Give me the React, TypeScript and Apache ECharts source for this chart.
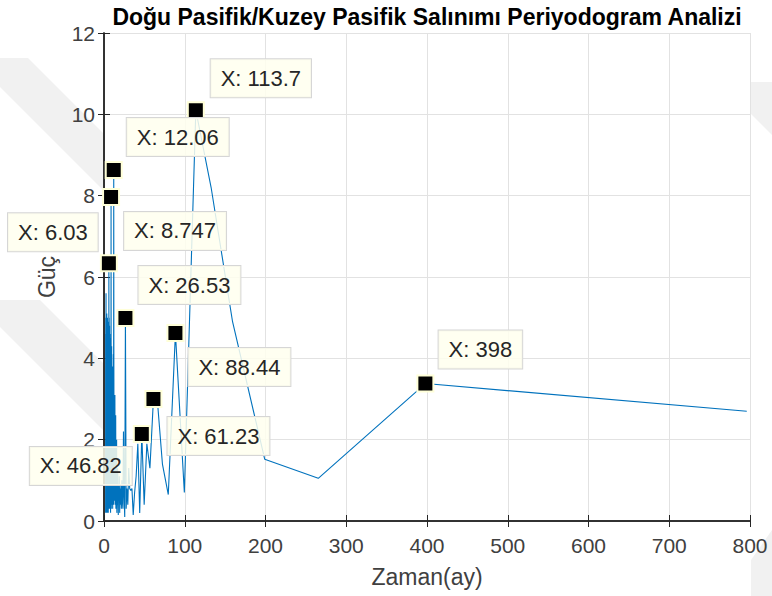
import React, { useEffect, useRef } from "react";
import * as echarts from "echarts";

// Record length in months: periods are RECORD_LENGTH / k for harmonic k
const RECORD_LENGTH = 796;

// Power for harmonics k = 1 .. 132
const lowPower = [
  2.7, 3.38, 1.05, 1.52, 4.9, 8.2, 10.1, 0.7, 4.62, 0.65,
  1.4, 2.9, 3.0, 1.3, 1.9, 0.4, 2.14, 0.2, 1.9, 1.1,
  0.7, 0.15, 0.8, 0.75, 0.8, 1.3, 0.4, 0.8, 0.3, 4.99,
  0.1, 0.6, 2.2, 0.3, 0.5, 1.0, 0.3, 0.9, 0.4, 0.8,
  0.2, 1.1, 0.5, 0.9, 0.15, 0.7, 1.3, 0.4, 0.6, 0.2,
  2.0, 0.5, 1.1, 0.3, 2.6, 0.8, 1.5, 0.4, 3.1, 1.0,
  0.6, 2.4, 1.2, 0.5, 3.5, 8.63, 1.8, 0.4, 4.1, 2.2,
  0.7, 3.3, 1.4, 0.3, 2.9, 3.8, 0.9, 2.0, 3.6, 1.2,
  3.1, 0.4, 2.2, 4.3, 0.7, 1.9, 3.6, 0.3, 2.8, 4.0,
  7.97, 1.1, 3.3, 0.5, 4.5, 1.6, 2.5, 0.2, 3.8, 1.3,
  4.4, 0.6, 2.9, 3.5, 0.9, 4.2, 1.7, 0.3, 3.0, 4.6,
  1.0, 2.4, 0.5, 3.9, 2.1, 4.8, 0.8, 1.5, 3.4, 0.4,
  4.1, 2.6, 1.2, 5.0, 0.7, 3.2, 1.8, 4.5, 0.3, 2.7,
  3.7, 6.34,
];

// Power for high harmonics k = 133, 136, 139, ... (every 3rd harmonic)
const TAIL_START = 133;
const TAIL_STEP = 3;
const tailPower = [
  3.2, 0.4, 1.8, 4.4, 0.9, 2.6, 0.2, 3.7, 1.1, 4.9,
  0.6, 2.2, 3.9, 0.3, 1.5, 4.2, 2.8, 0.5, 5.0, 1.3,
  0.2, 3.4, 2.0, 4.6, 0.8, 1.7, 3.1, 0.4, 4.8, 2.5,
  0.9, 3.6, 1.2, 5.1, 0.3, 2.7, 4.0, 1.6, 0.6, 3.3,
  4.7, 0.2, 2.1, 3.8, 1.0, 5.0, 0.5, 2.9, 1.4, 4.3,
  0.7, 3.5, 2.3, 0.3, 4.9, 1.9, 0.8, 3.0, 4.5, 0.4,
  2.4, 5.6, 1.1, 0.2, 3.6, 2.6, 4.1, 0.6, 1.8, 4.8,
  0.3, 2.8, 3.9, 1.2, 0.5, 4.4, 2.0, 0.9, 3.2, 5.0,
  1.5, 0.4, 2.7, 4.2, 0.7, 3.4, 1.3, 4.6, 0.2,
];

// Harmonics marked with data tips
const tipHarmonics = [7, 66, 91, 132, 30, 9, 2, 13, 17];
// Pixel offset of each data-tip box from its marker (layout only)
const tipOffsets = [
  [65, -32], [64, -33], [64, 34], [-56, -31], [64, -33],
  [64, 34], [55, -34], [65, 37], [-61, 32],
];

const xTickValues = [0, 100, 200, 300, 400, 500, 600, 700, 800];
const yTickValues = [0, 2, 4, 6, 8, 10, 12];

const TITLE = "Doğu Pasifik/Kuzey Pasifik Salınımı Periyodogram Analizi";
const X_NAME = "Zaman(ay)";
const Y_NAME = "Güç";

const FONT = "'Liberation Sans', Arial, Helvetica, sans-serif";

function period(k: number) {
  return RECORD_LENGTH / k;
}
function powerOf(k: number) {
  return lowPower[k - 1];
}
function fmt4(v: number) {
  return String(parseFloat(v.toPrecision(4)));
}

export default function App() {
  const ref = useRef<HTMLDivElement>(null);

  useEffect(() => {
    if (!ref.current) return;
    const chart = echarts.init(ref.current, null, { renderer: "svg" });

    const pts: [number, number][] = [];
    for (let i = tailPower.length - 1; i >= 0; i--) {
      const k = TAIL_START + i * TAIL_STEP;
      pts.push([period(k), tailPower[i]]);
    }
    for (let k = lowPower.length; k >= 1; k--) {
      pts.push([period(k), lowPower[k - 1]]);
    }

    const tipData = tipHarmonics.map((k) => ({
      value: [period(k), powerOf(k)],
      label: { formatter: "X: " + fmt4(period(k)) },
    }));

    const xMin = xTickValues[0];
    const xMax = xTickValues[xTickValues.length - 1];
    const xInt = xTickValues[1] - xTickValues[0];
    const yMin = yTickValues[0];
    const yMax = yTickValues[yTickValues.length - 1];
    const yInt = yTickValues[1] - yTickValues[0];

    const axisLine = { show: true, lineStyle: { color: "#262626", width: 1.5 } };
    const axisTick = { show: true, inside: true, length: 6, lineStyle: { color: "#262626", width: 1 } };

    const wm = "#f1f1f1";

    chart.setOption({
      animation: false,
      backgroundColor: "#ffffff",
      grid: {
        left: 104,
        right: 22,
        top: 33,
        bottom: 75,
        show: false,
      },
      graphic: [
        // faint background watermark stripes in the margins
        { type: "polygon", z: -10, silent: true, shape: { points: [[0, 58], [28, 58], [103, 133], [103, 190], [0, 87]] }, style: { fill: wm } },
        { type: "polygon", z: -10, silent: true, shape: { points: [[0, 300], [40, 300], [103, 363], [103, 430], [0, 327]] }, style: { fill: wm } },
        { type: "polygon", z: -10, silent: true, shape: { points: [[751, 82], [772, 82], [772, 135], [751, 114]] }, style: { fill: wm } },
        { type: "polygon", z: -10, silent: true, shape: { points: [[751, 560], [772, 530], [772, 596], [751, 596]] }, style: { fill: wm } },
        {
          type: "text",
          x: 427,
          y: 17,
          style: {
            text: TITLE,
            fill: "#000000",
            font: "bold 23px " + FONT,
            textAlign: "center",
            textVerticalAlign: "middle",
          },
        },
      ],
      xAxis: [
        {
          type: "value",
          position: "bottom",
          min: xMin,
          max: xMax,
          interval: xInt,
          axisLine,
          axisTick,
          axisLabel: { color: "#404040", fontSize: 21, fontFamily: FONT, margin: 14 },
          splitLine: { show: true, lineStyle: { color: "#e2e2e2", width: 1 } },
          name: X_NAME,
          nameLocation: "middle",
          nameGap: 44,
          nameTextStyle: { color: "#404040", fontSize: 23, fontFamily: FONT },
        },
        {
          type: "value",
          position: "top",
          min: xMin,
          max: xMax,
          interval: xInt,
          axisLine,
          axisTick,
          axisLabel: { show: false },
          splitLine: { show: false },
        },
      ],
      yAxis: [
        {
          type: "value",
          position: "left",
          min: yMin,
          max: yMax,
          interval: yInt,
          axisLine,
          axisTick,
          axisLabel: { color: "#404040", fontSize: 21, fontFamily: FONT, margin: 9 },
          splitLine: { show: true, lineStyle: { color: "#e2e2e2", width: 1 } },
          name: Y_NAME,
          nameLocation: "middle",
          nameGap: 46,
          nameTextStyle: { color: "#404040", fontSize: 23, fontFamily: FONT },
        },
        {
          type: "value",
          position: "right",
          min: yMin,
          max: yMax,
          interval: yInt,
          axisLine,
          axisTick,
          axisLabel: { show: false },
          splitLine: { show: false },
        },
      ],
      series: [
        {
          type: "line",
          xAxisIndex: 0,
          yAxisIndex: 0,
          data: pts,
          showSymbol: false,
          symbol: "none",
          lineStyle: { color: "#0072BD", width: 1.1 },
          silent: true,
          z: 2,
        },
        {
          type: "scatter",
          xAxisIndex: 0,
          yAxisIndex: 0,
          data: tipData,
          symbol: "rect",
          symbolSize: 16,
          itemStyle: { color: "#000000", borderColor: "#ffffd8", borderWidth: 2, opacity: 1 },
          label: {
            show: true,
            position: "inside",
            color: "#262626",
            fontSize: 22,
            fontFamily: FONT,
            backgroundColor: "rgba(255,255,238,0.85)",
            borderColor: "#d6d6d6",
            borderWidth: 1,
            padding: [8, 10, 8, 10],
          },
          labelLayout: (params: any) => ({
            dx: tipOffsets[params.dataIndex][0],
            dy: tipOffsets[params.dataIndex][1],
            hideOverlap: false,
          }),
          z: 5,
        },
      ],
    });

    return () => chart.dispose();
  }, []);

  return (
    <div
      ref={ref}
      style={{ position: "absolute", left: 0, top: 0, width: 772, height: 596 }}
    />
  );
}
